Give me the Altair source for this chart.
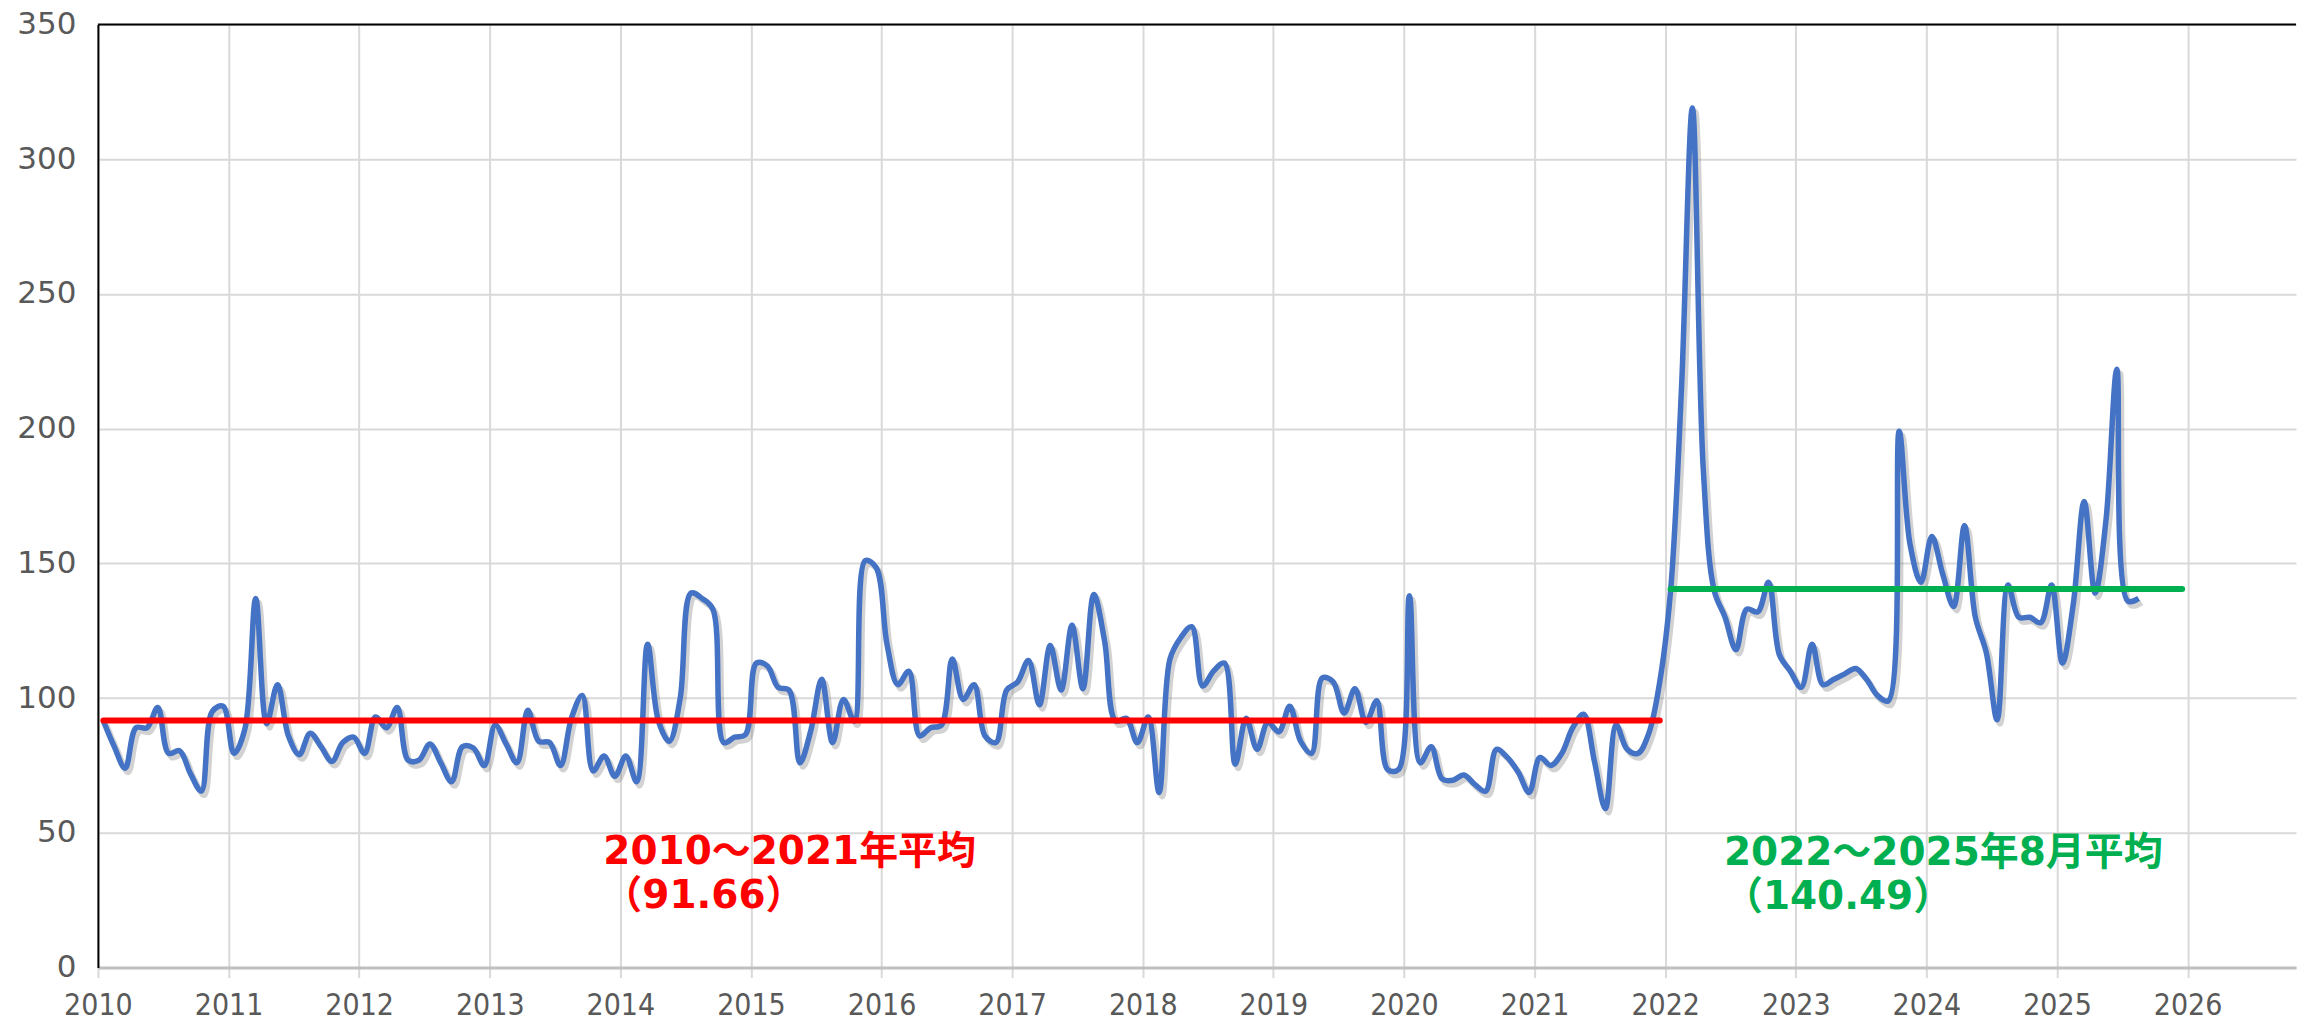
import altair as alt
import pandas as pd

# Monthly values (Jan..Dec)
v2010 = [91.5, 82, 74, 89, 89, 96.5, 79.5, 80.5, 72, 65.5, 95, 97]
v2011 = [79.5, 88.5, 137, 90.5, 105, 86, 79, 87, 82, 76.5, 83.5, 85.5]
v2012 = [79.5, 93, 89, 96.5, 77, 77, 83, 76, 69, 82, 81.5, 75]
v2013 = [90, 83, 76, 95.5, 84, 83.5, 75, 92.5, 101, 73, 78.5, 71]
v2014 = [78.5, 69, 120, 91.5, 84, 100, 139, 137, 133, 83.5, 85.5, 86.5]
v2015 = [113, 112, 104, 103, 76, 88, 107, 83.5, 99.5, 91.5, 151, 148.5]
v2016 = [120, 105, 110, 86, 89, 90, 114.5, 99.5, 105, 86, 83.5, 103]
v2017 = [106, 114, 97.5, 119.5, 103, 127, 103.5, 138.5, 121, 91.5, 92.5, 83.5]
v2018 = [93, 65, 114.5, 122.5, 126.5, 104.5, 110, 113, 75.5, 92.5, 81, 91]
v2019 = [87.5, 97, 84, 79.5, 107.5, 106, 94.5, 103.5, 91, 99, 73.5, 73.5]
v2020 = [138, 76, 82, 70, 69.5, 71.5, 68, 65.5, 81, 78, 72.5, 65]
v2021 = [78, 75, 79.5, 89, 94, 76.5, 59, 90, 81, 79.5, 87, 106]
v2022 = [140, 215, 319, 185, 140, 130, 118, 133, 132, 143, 116, 110]
v2023 = [104, 120, 105, 107, 109, 111, 107, 101, 99, 199, 157, 143]
v2024 = [160, 146, 134, 164, 130, 117, 92, 142, 130, 130, 128, 142]
v2025 = [113, 135, 173, 139, 166, 222, 136, 137]

years = list(range(2010, 2026))
series = [v2010, v2011, v2012, v2013, v2014, v2015, v2016, v2017,
          v2018, v2019, v2020, v2021, v2022, v2023, v2024, v2025]

# Period averages
avg_names = ["2010～2021年平均", "2022～2025年8月平均"]
avg_values = [91.66, 140.49]
avg_start = [2010 + 0.5 / 12, 2022 + 0.5 / 12]
avg_end = [2021 + 11.5 / 12, 2025 + 11.5 / 12]
avg_colors = ["#FF0000", "#00B050"]
label_line1 = ["2010～2021年平均", "2022～2025年8月平均"]
label_line2 = ["（91.66）", "（140.49）"]
label_x = [2013.87, 2022.45]
label_y1 = [43, 42.6]
label_y2 = [26.5, 26.2]

x_ticks = list(range(2010, 2027))
y_ticks = list(range(0, 351, 50))
X_MAX = 2026.83

rows = []
for y, vals in zip(years, series):
    for m, v in enumerate(vals):
        rows.append({"t": y + (m + 0.5) / 12, "value": v})
df = pd.DataFrame(rows)

avg_df = pd.DataFrame({"name": avg_names, "v": avg_values, "x1": avg_start,
                       "x2": avg_end, "color": avg_colors})
lab_df = pd.DataFrame({"l1": label_line1, "l2": label_line2, "x": label_x,
                       "y1": label_y1, "y2": label_y2, "color": avg_colors})

FONT = "DejaVu Sans"
XFONT = "DejaVu Sans Condensed, DejaVu Sans"
CJK = "DejaVu Sans, Noto Sans CJK JP"

xscale = alt.Scale(domain=[2010, X_MAX], nice=False, zero=False)
yscale = alt.Scale(domain=[0, 350], nice=False)

xaxis = alt.Axis(values=x_ticks, format="d", title=None, labelFontSize=30,
                 labelFont=XFONT, labelColor="#595959", grid=True,
                 gridColor="#D9D9D9", gridWidth=2, domainColor="#BFBFBF",
                 domainWidth=3, tickColor="#D9D9D9", tickWidth=2, tickSize=10,
                 labelPadding=13, labelFlush=False)
yaxis = alt.Axis(values=y_ticks, title=None, labelFontSize=31, labelFont=FONT,
                 labelColor="#595959", grid=True, gridColor="#D9D9D9",
                 gridWidth=2, domainColor="#000000", domainWidth=2,
                 ticks=False, labelPadding=22)

base = alt.Chart(df)

shadow = base.mark_line(interpolate="catmull-rom", strokeWidth=6, color="#7F7F7F",
                        opacity=0.35, xOffset=3, yOffset=4).encode(
    x=alt.X("t:Q", scale=xscale, axis=xaxis),
    y=alt.Y("value:Q", scale=yscale, axis=yaxis),
)

line = base.mark_line(interpolate="catmull-rom", strokeWidth=5.5,
                      color="#4472C4").encode(
    x=alt.X("t:Q", scale=xscale),
    y=alt.Y("value:Q", scale=yscale),
)

frame_top = alt.Chart(pd.DataFrame({"a": [0]})).mark_rule(
    color="#000000", strokeWidth=2).encode(
    x=alt.datum(2010), x2=alt.datum(X_MAX), y=alt.datum(350))

avg_rules = alt.Chart(avg_df).mark_rule(strokeWidth=6, strokeCap="round").encode(
    x=alt.X("x1:Q", scale=xscale),
    x2="x2:Q",
    y=alt.Y("v:Q", scale=yscale),
    color=alt.Color("color:N", scale=None),
)

txt1 = alt.Chart(lab_df).mark_text(font=CJK, fontSize=39, fontWeight="bold",
                                   align="left", baseline="middle").encode(
    x=alt.X("x:Q", scale=xscale), y=alt.Y("y1:Q", scale=yscale),
    text="l1:N", color=alt.Color("color:N", scale=None))
txt2 = alt.Chart(lab_df).mark_text(font=CJK, fontSize=39, fontWeight="bold",
                                   align="left", baseline="middle").encode(
    x=alt.X("x:Q", scale=xscale), y=alt.Y("y2:Q", scale=yscale),
    text="l2:N", color=alt.Color("color:N", scale=None))

chart = alt.layer(shadow, line, frame_top, avg_rules, txt1, txt2).properties(
    width=2200, height=944,
    padding={"left": 8, "top": 0, "right": 0, "bottom": 0},
    background="white",
).configure_view(stroke=None)

chart.save("out.html", embed_options={"renderer": "svg", "actions": False})
